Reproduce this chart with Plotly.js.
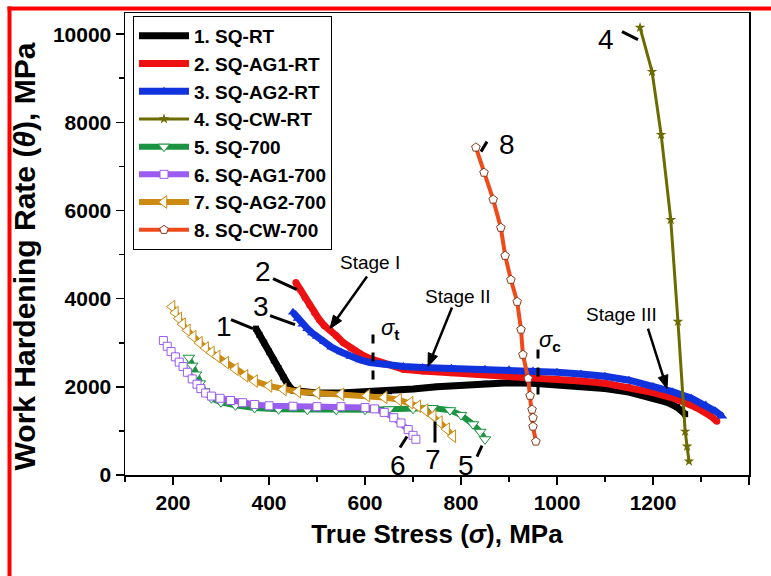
<!DOCTYPE html>
<html><head><meta charset="utf-8">
<script src="https://cdn.plot.ly/plotly-3.0.1.min.js"></script>
<style>html,body{margin:0;padding:0;background:#fff}#c{width:771px;height:576px}</style>
</head><body><div id="c"></div>
<script>
// ---- data ----
const names = ["1. SQ-RT","2. SQ-AG1-RT","3. SQ-AG2-RT","4. SQ-CW-RT","5. SQ-700","6. SQ-AG1-700","7. SQ-AG2-700","8. SQ-CW-700"];

const s1x = [373,380,390,400,410,420,430,440,450,470,500,550,600,650,700,750,800,850,900,950,1000,1050,1100,1150,1200,1230,1250,1267];
const s1y = [3320,3180,3000,2800,2600,2420,2220,2040,1920,1880,1860,1860,1880,1900,1950,2000,2040,2070,2090,2080,2050,2010,1960,1880,1760,1650,1540,1380];

const s2x = [456,465,475,485,495,505,515,527,540,555,570,590,610,640,680,720,780,850,900,950,1000,1050,1100,1150,1200,1250,1290,1320,1333];
const s2y = [4365,4200,4020,3850,3680,3520,3390,3300,3160,3000,2880,2750,2640,2520,2400,2360,2320,2280,2250,2220,2180,2130,2080,1990,1870,1720,1530,1340,1220];

const s3x = [450,460,470,480,490,500,515,530,550,570,590,610,640,680,720,780,850,900,950,1000,1050,1100,1150,1200,1240,1280,1310,1330,1344];
const s3y = [3690,3550,3420,3320,3220,3140,3020,2900,2790,2690,2610,2550,2500,2460,2440,2420,2400,2390,2360,2330,2290,2240,2150,2010,1890,1740,1590,1450,1330];

const s4x = [1173,1198,1217,1237,1252,1267,1271,1275];
const s4y = [10150,9150,7720,5790,3480,990,650,310];

const s5x = [233,240,248,256,265,280,300,330,370,420,480,540,600,650,700,740,777,800,825,840,850];
const s5y = [2660,2480,2280,2080,1900,1740,1650,1580,1520,1490,1480,1480,1480,1490,1500,1520,1470,1360,1150,980,810];

const s6x = [180,188,196,205,213,221,230,240,250,258,268,280,298,320,345,370,400,450,500,550,600,620,640,660,675,690,700,706];
const s6y = [3050,2920,2800,2680,2560,2460,2330,2180,2060,1960,1860,1790,1740,1690,1640,1600,1570,1560,1550,1550,1530,1500,1420,1300,1180,1030,900,810];

const s7x = [198,205,212,220,230,242,255,268,280,292,310,330,350,370,400,430,460,500,550,604,640,670,694,710,725,742,755,770,783];
const s7y = [3820,3680,3550,3420,3280,3140,3000,2880,2780,2690,2550,2400,2250,2130,2020,1940,1890,1860,1830,1800,1760,1710,1640,1560,1470,1340,1200,1040,880];

const s8x = [831,848,867,883,892,904,917,925,929,940,944,948,950,950,956];
const s8y = [7430,6860,6250,5610,4975,4430,3930,3300,2730,2190,1800,1485,1300,1100,760];

const xTickVals = [200,400,600,800,1000,1200,1400];
const yTickVals = [0,2000,4000,6000,8000,10000];

// ---- styling ----
const FONT = "Arial, 'Liberation Sans', sans-serif";
const cols = ["#000000","#ee1111","#1133dd","#6b6b00","#1a9440","#9b5cf0","#cc8a10","#ee4a1a"];

function tr(x,y,i,lw,sym,ms,fill,lc,lwid){
  return {x:x,y:y,name:names[i],type:"scatter",mode:"lines+markers",
    line:{color:cols[i],width:lw},
    marker:{symbol:sym,size:ms,color:fill,line:{color:lc,width:lwid}}};
}
const traces = [
  tr(s1x,s1y,0,7,"square",6,cols[0],cols[0],0),
  tr(s2x,s2y,1,7,"circle",7,cols[1],cols[1],0),
  tr(s3x,s3y,2,7,"triangle-up",9,cols[2],cols[2],0),
  tr(s4x,s4y,3,3,"star",8,cols[3],cols[3],0),
  tr(s5x,s5y,4,6,"triangle-down",10,"#ffffff",cols[4],1),
  tr(s6x,s6y,5,6,"square",8,"#ffffff",cols[5],1),
  tr(s7x,s7y,6,6,"triangle-left",11,"#ffffff",cols[6],1),
  tr(s8x,s8y,7,4,"pentagon",9,"#ffffff","#8a3a1a",1)
];

// pixel -> data helpers for annotation placement
const X = p => 100 + (p-125)/0.48;
const Y = p => (475.5-p)/0.0441;
function seg(x0,y0,x1,y1,w,dash){
  return {type:"line",xref:"x",yref:"y",x0:X(x0),y0:Y(y0),x1:X(x1),y1:Y(y1),
    line:{color:"#000",width:w||3,dash:dash||"solid"}};
}
function txt(px,py,t,size){
  return {x:X(px),y:Y(py),xref:"x",yref:"y",text:t,showarrow:false,
    font:{family:FONT,size:size,color:"#000"}};
}
// arrow as line + filled triangular head (pixel coordinates converted to data)
function arrowShapes(tx,ty,hx,hy){
  const dx=hx-tx, dy=hy-ty, L=Math.hypot(dx,dy), ux=dx/L, uy=dy/L;
  const hl=13, hw=5;
  const bx=hx-ux*hl, by=hy-uy*hl;
  const p1=[bx-uy*hw, by+ux*hw], p2=[bx+uy*hw, by-ux*hw];
  return [
    {type:"line",xref:"x",yref:"y",x0:X(tx),y0:Y(ty),x1:X(bx+ux*2),y1:Y(by+uy*2),line:{color:"#000",width:2.5}},
    {type:"path",xref:"x",yref:"y",
     path:`M ${X(hx)} ${Y(hy)} L ${X(p1[0])} ${Y(p1[1])} L ${X(p2[0])} ${Y(p2[1])} Z`,
     fillcolor:"#000",line:{color:"#000",width:1}}
  ];
}

const shapes = [
  // outer red frame (top and left)
  {type:"line",xref:"paper",yref:"paper",x0:(7.5-125)/624,x1:(775-125)/624,y0:(475.5-8.5)/462.5,y1:(475.5-8.5)/462.5,line:{color:"#ff0000",width:4}},
  {type:"line",xref:"paper",yref:"paper",x0:(9.5-125)/624,x1:(9.5-125)/624,y0:(475.5-6.5)/462.5,y1:(475.5-580)/462.5,line:{color:"#ff0000",width:4}},
  seg(231,320,253,329), seg(273,279,297,290), seg(270,316,295,325),
  seg(622,32,638,40), seg(481,152,487,142),
  seg(400,448,407,437), seg(435,422,435,443), seg(477,457,482,446),
  seg(373,335,373,383,3,"dash"), seg(538,350,538,398,3,"dash"),
  ...arrowShapes(367,277,330,329),
  ...arrowShapes(452,308,428,367),
  ...arrowShapes(648,329,667,389)
];

const annotations = [
  txt(224,327,"1",28), txt(263,272,"2",28), txt(261,307,"3",28), txt(606,40,"4",28),
  txt(466,466,"5",28), txt(398,466,"6",28), txt(433,460,"7",28), txt(507,145,"8",28),
  txt(370,263,"Stage I",19), txt(458,297,"Stage II",19), txt(621,315,"Stage III",19),
  txt(390,329,"<i>σ</i><sub><b>t</b></sub>",22), txt(550,341,"<i>σ</i><sub><b>c</b></sub>",22)
];

const axisCommon = {showline:true,linecolor:"#000",linewidth:1.5,mirror:true,
  showgrid:false,zeroline:false,ticks:"outside",ticklen:8,tickwidth:1.5,tickcolor:"#000",
  tickformat:"d",
  tickfont:{family:FONT,size:21,color:"#000",weight:"bold"}};

const layout = {
  width:771,height:576,paper_bgcolor:"#fff",plot_bgcolor:"#fff",
  margin:{l:125,r:22,t:13,b:100.5},
  font:{family:FONT,color:"#000"},
  xaxis:Object.assign({},axisCommon,{range:[100,1400],tickvals:xTickVals,
    minor:{dtick:100,tick0:0,ticks:"outside",ticklen:5,tickwidth:1.5,tickcolor:"#000"},
    title:{text:"<b>True Stress (<i>σ</i>), MPa</b>",font:{family:FONT,size:26,color:"#000"},standoff:12}}),
  yaxis:Object.assign({},axisCommon,{range:[0,10480],tickvals:yTickVals,
    minor:{dtick:1000,tick0:0,ticks:"outside",ticklen:5,tickwidth:1.5,tickcolor:"#000"},
    title:{text:"<b>Work Hardening Rate (<i>θ</i>), MPa\u00A0\u00A0\u00A0</b>",font:{family:FONT,size:30,color:"#000"},standoff:8}}),
  legend:{x:0.0128,y:0.9935,xanchor:"left",yanchor:"top",bgcolor:"#fff",bordercolor:"#000",borderwidth:1,
    font:{family:FONT,size:19,color:"#000",weight:"bold"},itemwidth:50,tracegroupgap:0},
  showlegend:true,
  shapes:shapes,annotations:annotations
};
Plotly.newPlot("c",traces,layout,{staticPlot:true});
</script></body></html>
